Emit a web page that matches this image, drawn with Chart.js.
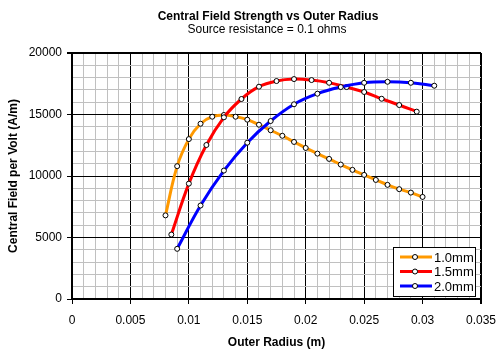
<!DOCTYPE html>
<html>
<head>
<meta charset="utf-8">
<script src="https://cdn.jsdelivr.net/npm/chart.js@4/dist/chart.umd.min.js"></script>
<style>
  html, body { margin: 0; padding: 0; background: #fff; }
  canvas { display: block; }
</style>
</head>
<body>
<canvas id="chart" width="501" height="354"></canvas>
<script>
const titleText = "Central Field Strength vs Outer Radius";
const subtitleText = "Source resistance = 0.1 ohms";
const xTitle = "Outer Radius (m)";
const yTitle = "Central Field per Volt (A/m)";

const seriesNames = ["1.0mm", "1.5mm", "2.0mm"];
const seriesColors = ["#ff9900", "#ff0000", "#0000ff"];

// 1.0mm
const radius1 = [0.008, 0.009, 0.010, 0.011, 0.012, 0.013, 0.014, 0.015, 0.016, 0.017, 0.018, 0.019,
  0.020, 0.021, 0.022, 0.023, 0.024, 0.025, 0.026, 0.027, 0.028, 0.029, 0.030];
const field1 = [6800, 10800, 13000, 14250, 14820, 14960, 14820, 14580, 14170, 13720, 13270, 12770,
  12280, 11820, 11390, 10930, 10500, 10090, 9680, 9280, 8930, 8650, 8300];

// 1.5mm
const radius2 = [0.0085, 0.010, 0.0115, 0.013, 0.0145, 0.016, 0.0175, 0.019, 0.0205, 0.022, 0.0235,
  0.025, 0.0265, 0.028, 0.0295];
const field2 = [5240, 9380, 12520, 14770, 16260, 17260, 17720, 17880, 17800, 17580, 17230,
  16830, 16280, 15770, 15230];

// 2.0mm
const radius3 = [0.009, 0.011, 0.013, 0.015, 0.017, 0.019, 0.021, 0.023, 0.025, 0.027, 0.029, 0.031];
const field3 = [4080, 7600, 10440, 12710, 14470, 15830, 16690, 17230, 17580, 17660, 17580, 17340];

const FONT = 'Arial, "Liberation Sans", sans-serif';

function toPoints(xs, ys) {
  return xs.map((x, i) => ({ x: x, y: ys[i] }));
}

function isMajorX(v) {
  const r = v / 0.005;
  return Math.abs(r - Math.round(r)) < 1e-6;
}

function isMajorY(v) {
  return Math.round(v) % 5000 === 0;
}

function makeDataset(i, xs, ys) {
  return {
    label: seriesNames[i],
    data: toPoints(xs, ys),
    showLine: true,
    borderColor: seriesColors[i],
    backgroundColor: seriesColors[i],
    borderWidth: 3,
    tension: 0.4,
    pointRadius: 2.5,
    pointBackgroundColor: "#fff",
    pointBorderColor: "#000",
    pointBorderWidth: 1,
    order: 2 - i,
  };
}

// titles and the boxed legend, drawn the way the spreadsheet did them
const decorPlugin = {
  id: "decor",
  afterDraw(chart) {
    const ctx = chart.ctx;
    ctx.save();
    ctx.fillStyle = "#000";
    ctx.textAlign = "center";
    ctx.textBaseline = "alphabetic";
    ctx.font = "bold 12px " + FONT;
    ctx.fillText(titleText, 268, 20);
    ctx.font = "12px " + FONT;
    ctx.fillText(subtitleText, 267, 33);

    // legend
    const bx = 393.5, by = 247.5, bw = 82, bh = 49;
    ctx.fillStyle = "#fff";
    ctx.fillRect(bx, by, bw, bh);
    ctx.strokeStyle = "#000";
    ctx.lineWidth = 1;
    ctx.strokeRect(bx, by, bw, bh);
    ctx.font = "13px " + FONT;
    ctx.textAlign = "left";
    ctx.textBaseline = "middle";
    seriesNames.forEach((name, i) => {
      const y = 257 + i * 14.5;
      ctx.strokeStyle = seriesColors[i];
      ctx.lineWidth = 3;
      ctx.beginPath();
      ctx.moveTo(400, y);
      ctx.lineTo(432, y);
      ctx.stroke();
      ctx.beginPath();
      ctx.arc(415, y, 2.5, 0, Math.PI * 2);
      ctx.fillStyle = "#fff";
      ctx.fill();
      ctx.strokeStyle = "#000";
      ctx.lineWidth = 1;
      ctx.stroke();
      ctx.fillStyle = "#000";
      ctx.fillText(name, 434, y + 1);
    });
    ctx.restore();
  },
};

const ctxChart = document.getElementById("chart").getContext("2d");
new Chart(ctxChart, {
  type: "scatter",
  data: {
    datasets: [
      makeDataset(0, radius1, field1),
      makeDataset(1, radius2, field2),
      makeDataset(2, radius3, field3),
    ],
  },
  options: {
    responsive: false,
    animation: false,
    devicePixelRatio: 1,
    layout: { autoPadding: false, padding: { top: 53, right: 20, left: 0, bottom: 0 } },
    plugins: {
      legend: { display: false },
      tooltip: { enabled: false },
    },
    scales: {
      x: {
        type: "linear",
        min: 0,
        max: 0.035,
        afterFit: (scale) => {
          scale.height = 55;
          // the end labels may hang over the plot edge, no need to shrink it
          scale.paddingLeft = 0;
          scale.paddingRight = 0;
        },
        border: { display: true, color: "#000", width: 2 },
        grid: {
          color: (c) => (c.tick && isMajorX(c.tick.value) ? "#000" : "#c0c0c0"),
          lineWidth: (c) => (c.tick && Math.abs(c.tick.value - 0.035) < 1e-9 ? 2 : 1),
          tickColor: (c) => (c.tick && isMajorX(c.tick.value) ? "#000" : "rgba(0,0,0,0)"),
          tickLength: 5,
        },
        ticks: {
          stepSize: 0.001,
          autoSkip: false,
          maxRotation: 0,
          padding: 9,
          color: "#000",
          font: { family: FONT, size: 12 },
          callback: (v) => (isMajorX(v) ? String(+v.toFixed(3)) : ""),
        },
        title: {
          display: true,
          text: xTitle,
          color: "#000",
          font: { family: FONT, size: 12, weight: "bold" },
          padding: { top: 0, bottom: 4 },
        },
      },
      y: {
        type: "linear",
        min: 0,
        max: 20000,
        afterFit: (scale) => { scale.width = 72; },
        border: { display: true, color: "#000", width: 2 },
        grid: {
          color: (c) => (c.tick && isMajorY(c.tick.value) ? "#000" : "#c0c0c0"),
          lineWidth: (c) => (c.tick && c.tick.value === 20000 ? 2 : 1),
          tickColor: (c) => (c.tick && isMajorY(c.tick.value) ? "#000" : "rgba(0,0,0,0)"),
          tickLength: 5,
        },
        ticks: {
          stepSize: 1000,
          autoSkip: false,
          padding: 5,
          color: "#000",
          font: { family: FONT, size: 12 },
          callback: (v) => (isMajorY(v) ? String(v) : ""),
        },
        title: {
          display: true,
          text: yTitle,
          color: "#000",
          font: { family: FONT, size: 12, weight: "bold" },
          padding: { top: 6, bottom: 0 },
        },
      },
    },
  },
  plugins: [decorPlugin],
});
</script>
</body>
</html>
